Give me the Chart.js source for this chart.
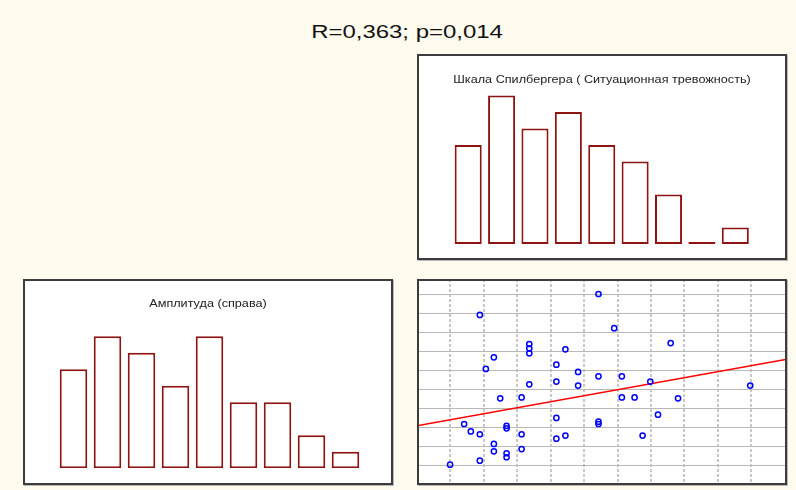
<!DOCTYPE html>
<html>
<head>
<meta charset="utf-8">
<script src="https://cdn.jsdelivr.net/npm/chart.js@4"></script>
<style>
  html, body { margin: 0; padding: 0; }
  body { width: 796px; height: 490px; background: #fffaee; position: relative; overflow: hidden;
         font-family: "Liberation Sans", Arial, sans-serif; }
  .panel { position: absolute; width: 370px; height: 206px; background: #fff; }
  .panel canvas { position: absolute; left: 0; top: 0; }
  .frame { position: absolute; inset: 0; border: 2px solid #3c3c3c; box-shadow: 1px 1px 0 #b8b8b8; pointer-events: none; }
  .ptitle { position: absolute; left: 0; width: 100%; text-align: center; font-size: 11px; color: #222;
            transform: scaleX(1.15); white-space: nowrap; }
  #mainTitle { position: absolute; left: 0; width: 814px; top: 22px; text-align: center; font-size: 18px; color: #111;
               transform: scaleX(1.33); white-space: nowrap; }
</style>
</head>
<body>
<div id="mainTitle">R=0,363; p=0,014</div>

<div class="panel" style="left:417px; top:54px;">
  <canvas id="spielberger" width="370" height="206"></canvas>
  <div class="ptitle" style="top:19px;">Шкала Спилбергера ( Ситуационная тревожность)</div>
  <div class="frame"></div>
</div>

<div class="panel" style="left:23px; top:279px;">
  <canvas id="amplitude" width="370" height="206"></canvas>
  <div class="ptitle" style="top:18px;">Амплитуда (справа)</div>
  <div class="frame"></div>
</div>

<div class="panel" style="left:417px; top:279px;">
  <canvas id="scatter" width="370" height="206"></canvas>
  <div class="frame"></div>
</div>

<script>
// histogram bins and counts
const binLabels = ['1', '2', '3', '4', '5', '6', '7', '8', '9'];
const spielbergerCounts = [6, 9, 7, 8, 6, 5, 3, 0, 1];
const amplitudeCounts = [6, 8, 7, 5, 8, 4, 4, 2, 1];

// scatter: x = Spielberger score, y = amplitude (scaled units)
const scatterX = [5.43, 1.88, 5.90, 7.59, 3.36, 3.36, 3.36, 4.44, 2.30, 2.06, 4.17,
                  4.82, 5.43, 6.13, 6.98, 4.17, 3.36, 4.82, 9.97, 2.49, 3.13, 6.13,
                  6.51, 7.81, 7.21, 4.17, 1.41, 5.43, 5.43, 2.68, 2.68, 1.61, 1.88,
                  3.13, 4.44, 6.75, 4.17, 2.30, 2.30, 3.13, 2.68, 2.68, 1.88, 0.99];
const scatterY = [10.05, 8.95, 8.25, 7.47, 7.42, 7.19, 6.93, 7.14, 6.72, 6.11, 6.33,
                  5.95, 5.72, 5.72, 5.44, 5.44, 5.30, 5.23, 5.23, 4.56, 4.61, 4.61,
                  4.61, 4.56, 3.70, 3.53, 3.21, 3.33, 3.21, 3.11, 2.98, 2.82, 2.67,
                  2.67, 2.60, 2.60, 2.44, 2.16, 1.77, 1.89, 1.67, 1.46, 1.28, 1.07];

// regression line end points
const fitX = [0, 11.07];
const fitY = [3.12, 6.62];

const hidden = { display: false };

function histogram(id, counts, padding) {
  return new Chart(document.getElementById(id), {
    type: 'bar',
    data: {
      labels: binLabels,
      datasets: [{
        data: counts,
        backgroundColor: '#ffffff',
        borderColor: '#8e1414',
        borderWidth: 2,
        borderSkipped: false,
        minBarLength: 2,
        categoryPercentage: 1,
        barPercentage: 0.81
      }]
    },
    options: {
      responsive: false,
      animation: false,
      layout: { padding: padding },
      plugins: { legend: hidden, tooltip: { enabled: false } },
      scales: {
        x: hidden,
        y: { display: false, min: 0, max: 9.5 }
      }
    }
  });
}

histogram('spielberger', spielbergerCounts, { top: 33.25, bottom: 16, left: 34.5, right: 35 });
histogram('amplitude', amplitudeCounts, { top: 32.55, bottom: 16.7, left: 33.5, right: 30.5 });

const innerTicks = scale => {
  scale.ticks = scale.ticks.filter(t => t.value >= 1 && t.value <= 10);
};
const zeroSize = scale => {
  if (scale.isHorizontal()) scale.height = 0; else scale.width = 0;
  scale.paddingLeft = scale.paddingRight = scale.paddingTop = scale.paddingBottom = 0;
};

new Chart(document.getElementById('scatter'), {
  type: 'scatter',
  data: {
    datasets: [{
      data: scatterX.map((x, i) => ({ x: x, y: scatterY[i] })),
      pointStyle: 'circle',
      pointRadius: 2.6,
      pointBorderWidth: 1.5,
      pointBorderColor: '#0000ff',
      pointBackgroundColor: 'rgba(255,255,255,0)',
      order: 1
    }, {
      type: 'line',
      data: fitX.map((x, i) => ({ x: x, y: fitY[i] })),
      borderColor: '#ff0000',
      borderWidth: 1.5,
      pointRadius: 0,
      order: 2
    }]
  },
  options: {
    responsive: false,
    animation: false,
    layout: { padding: 0, autoPadding: false },
    plugins: { legend: hidden, tooltip: { enabled: false } },
    scales: {
      x: {
        type: 'linear', min: 0, max: 11.07,
        ticks: { display: false, stepSize: 1 },
        grid: { color: '#c8c8c8', lineWidth: 2, drawTicks: false },
        border: { display: false, dash: [3, 2] },
        afterBuildTicks: innerTicks,
        afterFit: zeroSize
      },
      y: {
        type: 'linear', min: 0, max: 10.84,
        ticks: { display: false, stepSize: 1 },
        grid: { color: '#b8b8b8', lineWidth: 1, drawTicks: false },
        border: { display: false },
        afterBuildTicks: innerTicks,
        afterFit: zeroSize
      }
    }
  }
});
</script>
</body>
</html>
